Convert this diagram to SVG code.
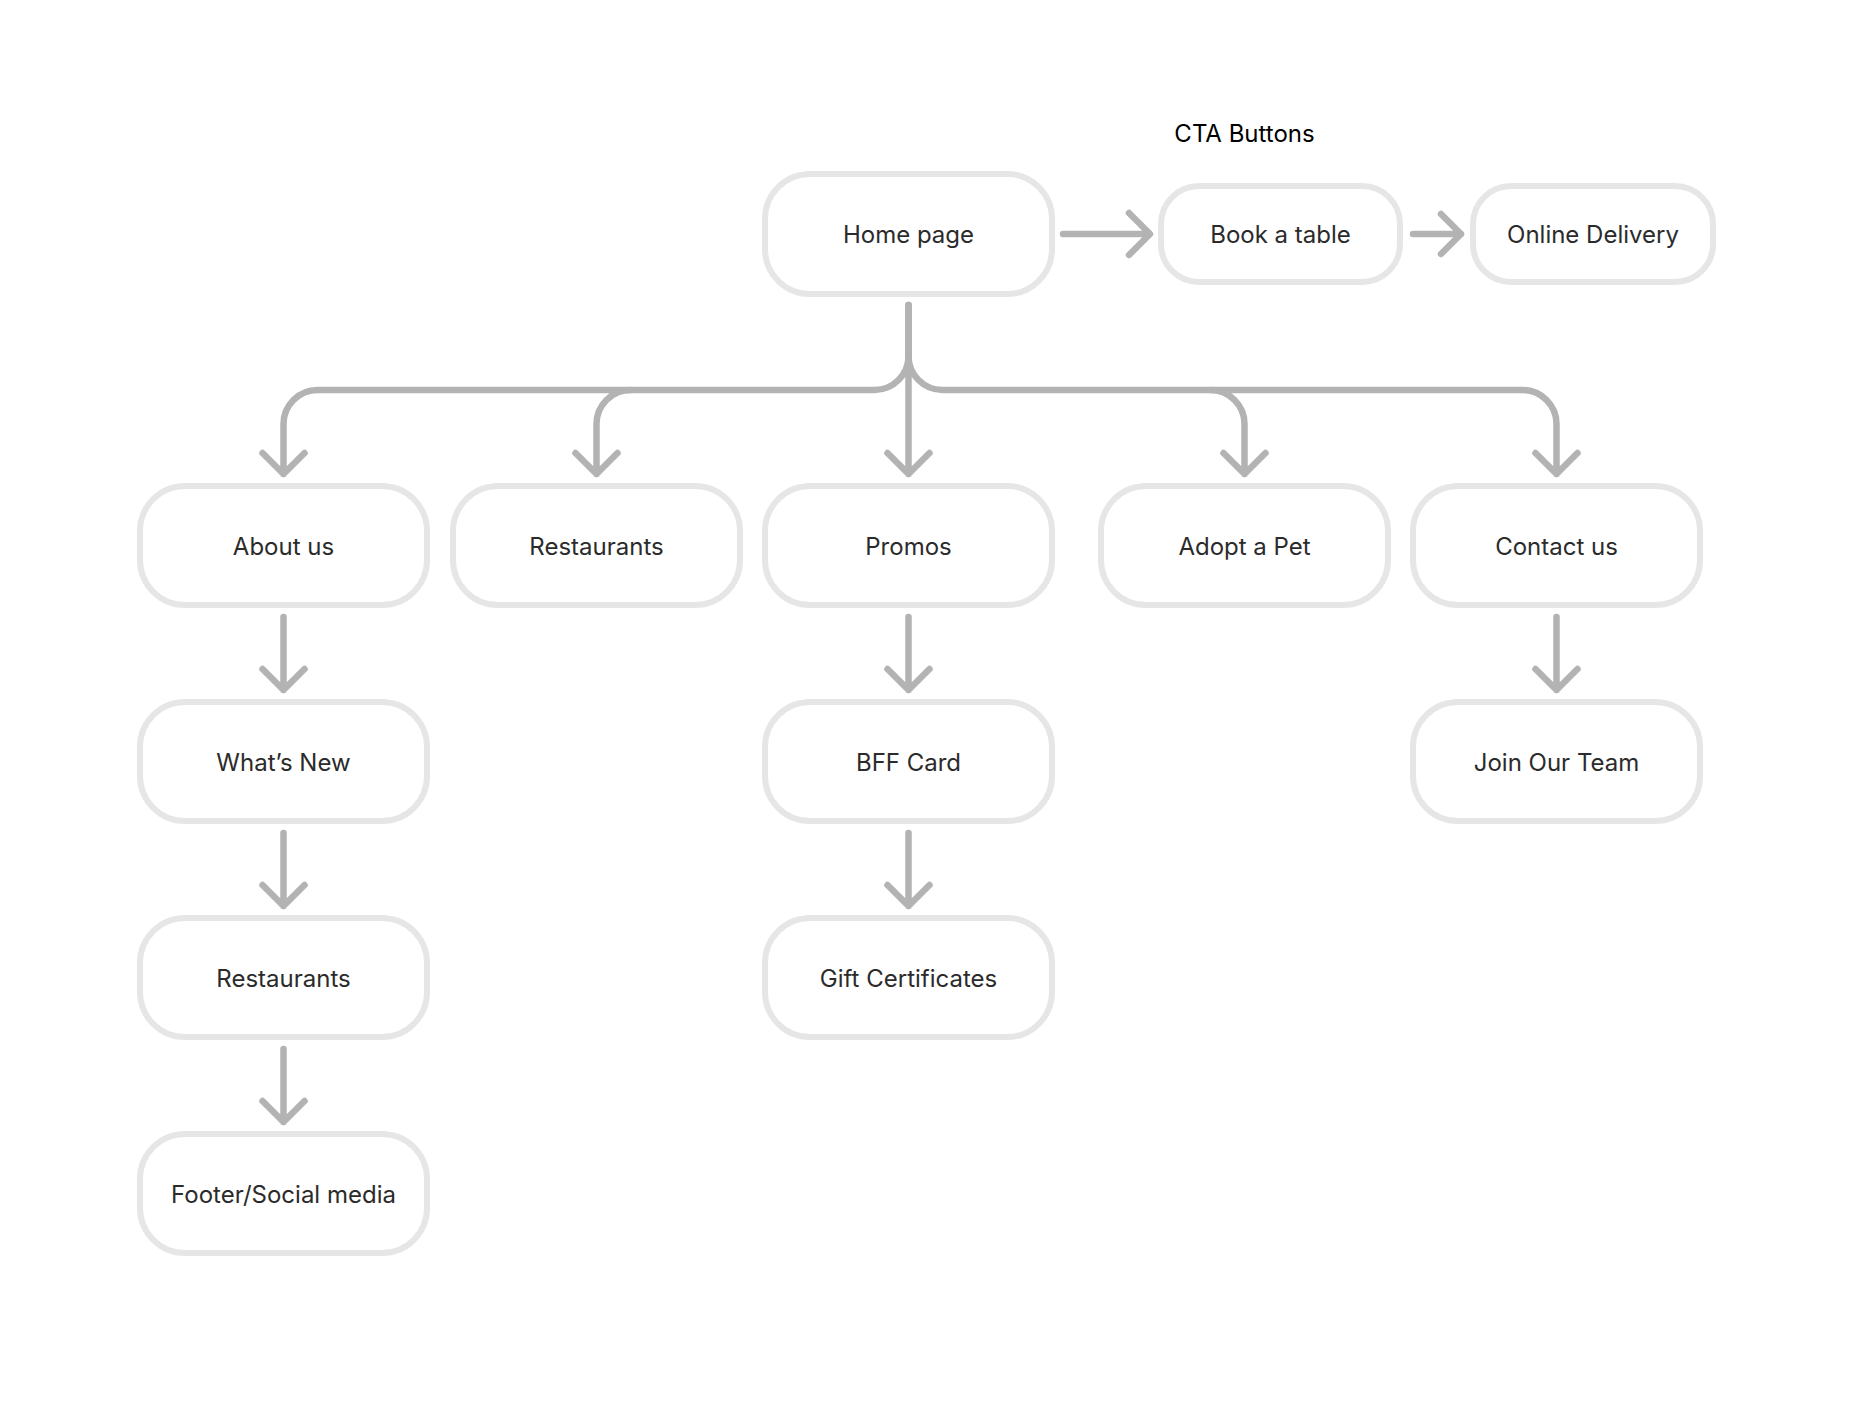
<svg xmlns="http://www.w3.org/2000/svg" width="1872" height="1404" viewBox="0 0 1872 1404">
<style>
.box{fill:#ffffff;stroke:#e6e6e6;stroke-width:6}
.lbl{font-family:Inter,"Noto Sans","Liberation Sans",sans-serif;font-size:24px;fill:#2b2b2b;text-anchor:middle}
.title{font-family:Inter,"Noto Sans","Liberation Sans",sans-serif;font-size:24px;fill:#000000;text-anchor:middle}
.con{fill:none;stroke:#b3b3b3;stroke-width:6.5;stroke-linecap:round;stroke-linejoin:round}
</style>
<rect width="1872" height="1404" fill="#ffffff"/>
<text class="title" x="1244.5" y="142">CTA Buttons</text>
<g id="connectors">
<path class="con" d="M1063,234 H1149 M1129,213 L1150,234 L1129,255"/>
<path class="con" d="M1413,234 H1461 M1441,214 L1461,234 L1441,254"/>
<path class="con" d="M908.5,305 V474 M887.5,453 L908.5,474 L929.5,453"/>
<path class="con" d="M908.5,305 V356 A34,34 0 0 1 874.5,390 H317.5 A34,34 0 0 0 283.5,424 V474 M262.5,453 L283.5,474 L304.5,453"/>
<path class="con" d="M630.5,390 A34,34 0 0 0 596.5,424 V474 M575.5,453 L596.5,474 L617.5,453"/>
<path class="con" d="M908.5,305 V356 A34,34 0 0 0 942.5,390 H1522.5 A34,34 0 0 1 1556.5,424 V474 M1535.5,453 L1556.5,474 L1577.5,453"/>
<path class="con" d="M1210.5,390 A34,34 0 0 1 1244.5,424 V474 M1223.5,453 L1244.5,474 L1265.5,453"/>
<path class="con" d="M283.5,617 V690 M262.5,669 L283.5,690 L304.5,669"/>
<path class="con" d="M283.5,833 V906 M262.5,885 L283.5,906 L304.5,885"/>
<path class="con" d="M283.5,1049 V1122 M262.5,1101 L283.5,1122 L304.5,1101"/>
<path class="con" d="M908.5,617 V690 M887.5,669 L908.5,690 L929.5,669"/>
<path class="con" d="M908.5,833 V906 M887.5,885 L908.5,906 L929.5,885"/>
<path class="con" d="M1556.5,617 V690 M1535.5,669 L1556.5,690 L1577.5,669"/>
</g>
<g id="home"><rect class="box" x="765" y="174" width="287" height="120" rx="45"/><text class="lbl" x="908.5" y="243">Home page</text></g>
<g id="book"><rect class="box" x="1161" y="186" width="239" height="96" rx="38"/><text class="lbl" x="1280.5" y="243">Book a table</text></g>
<g id="online"><rect class="box" x="1473" y="186" width="240" height="96" rx="38"/><text class="lbl" x="1593" y="243">Online Delivery</text></g>
<g id="about"><rect class="box" x="140" y="486" width="287" height="119" rx="45"/><text class="lbl" x="283.5" y="554.5">About us</text></g>
<g id="restaurants1"><rect class="box" x="453" y="486" width="287" height="119" rx="45"/><text class="lbl" x="596.5" y="554.5">Restaurants</text></g>
<g id="promos"><rect class="box" x="765" y="486" width="287" height="119" rx="45"/><text class="lbl" x="908.5" y="554.5">Promos</text></g>
<g id="adopt"><rect class="box" x="1101" y="486" width="287" height="119" rx="45"/><text class="lbl" x="1244.5" y="554.5">Adopt a Pet</text></g>
<g id="contact"><rect class="box" x="1413" y="486" width="287" height="119" rx="45"/><text class="lbl" x="1556.5" y="554.5">Contact us</text></g>
<g id="whatsnew"><rect class="box" x="140" y="702" width="287" height="119" rx="45"/><text class="lbl" x="283.5" y="770.5">What’s New</text></g>
<g id="restaurants2"><rect class="box" x="140" y="918" width="287" height="119" rx="45"/><text class="lbl" x="283.5" y="986.5">Restaurants</text></g>
<g id="footer"><rect class="box" x="140" y="1134" width="287" height="119" rx="45"/><text class="lbl" x="283.5" y="1202.5">Footer/Social media</text></g>
<g id="bff"><rect class="box" x="765" y="702" width="287" height="119" rx="45"/><text class="lbl" x="908.5" y="770.5">BFF Card</text></g>
<g id="gift"><rect class="box" x="765" y="918" width="287" height="119" rx="45"/><text class="lbl" x="908.5" y="986.5">Gift Certificates</text></g>
<g id="join"><rect class="box" x="1413" y="702" width="287" height="119" rx="45"/><text class="lbl" x="1556.5" y="770.5">Join Our Team</text></g>
</svg>
